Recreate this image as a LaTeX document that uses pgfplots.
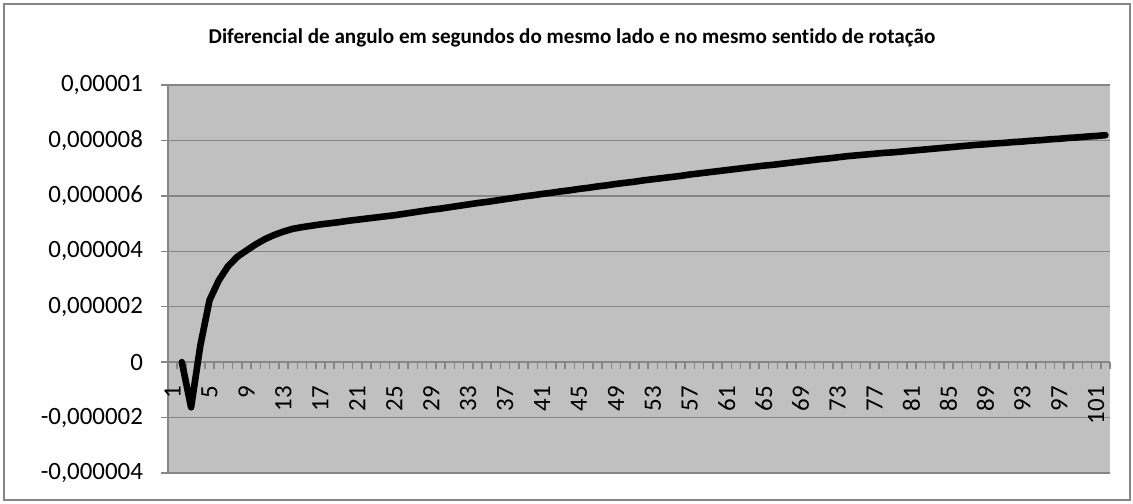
\documentclass[border=0pt]{standalone}
\usepackage{pgfplots}
\pgfplotsset{compat=1.18}
\usepackage{fontspec}
\setmainfont{Carlito}[Ligatures=NoCommon]
\definecolor{plotbg}{HTML}{C0C0C0}
\definecolor{gridc}{HTML}{868686}
\begin{document}
\begin{tikzpicture}[x=1bp,y=1bp]
\path[use as bounding box] (-84,-15) rectangle (482.5,236.5);
\draw[gridc, line width=0.75bp] (-82,-13.5) rectangle (481,234.5);
\node[font=\fontsize{10.6}{12}\selectfont\bfseries] at (202,217.5) {Diferencial de angulo em segundos do mesmo lado e no mesmo sentido de rotação};
\begin{axis}[
  at={(0,0)}, anchor=south west,
  scale only axis, width=471bp, height=194bp,
  xmin=0.5, xmax=102.5, ymin=-4e-6, ymax=1e-5,
  axis background/.style={fill=plotbg},
  axis x line=middle, axis y line=left,
  axis line style={gridc, line width=0.75bp, -},
  hide obscured x ticks=false, hide obscured y ticks=false,
  scaled y ticks=false,
  tick align=outside,
  major tick length=3.5bp, minor tick length=3.5bp,
  tick style={gridc, line width=0.75bp},
  xtick={1,5,...,101},
  minor xtick={0.5,1.5,...,102.5},
  major x tick style={draw=none},
  xticklabel style={yshift=-5bp, rotate=90, anchor=east, font=\fontsize{12.5}{14}\selectfont},
  /pgf/number format/assume math mode=true,
  ytick={-4e-6,-2e-6,0,2e-6,4e-6,6e-6,8e-6,1e-5},
  yticklabels={{-0,000004},{-0,000002},{0},{0,000002},{0,000004},{0,000006},{0,000008},{0,00001}},
  yticklabel style={xshift=-5.5bp, anchor=east, font=\fontsize{12.5}{14}\selectfont},
  ymajorgrids, major grid style={gridc, line width=0.75bp},
  clip=false,
]
\addplot[black, line width=3.3bp, line join=round, line cap=round] coordinates {
(2,0) (3,-1.63e-6) (4,0.6e-6) (5,2.24e-6) (6,2.95e-6) (7,3.46e-6) (8,3.80e-6) (9,4.03e-6)
(10,4.25e-6) (11,4.44e-6) (12,4.59e-6) (13,4.71e-6) (14,4.81e-6) (15,4.87e-6) (16,4.92e-6)
(17,4.97e-6) (18,5.01e-6) (19,5.05e-6) (20,5.10e-6) (21,5.14e-6) (22,5.18e-6) (23,5.22e-6)
(24,5.26e-6) (25,5.30e-6) (26,5.35e-6) (27,5.40e-6) (28,5.45e-6) (29,5.50e-6) (30,5.54e-6)
(31,5.59e-6) (32,5.64e-6) (33,5.69e-6) (34,5.74e-6) (35,5.78e-6) (36,5.83e-6) (37,5.88e-6)
(38,5.93e-6) (39,5.98e-6) (40,6.02e-6) (41,6.07e-6) (42,6.11e-6) (43,6.16e-6) (44,6.20e-6)
(45,6.25e-6) (46,6.29e-6) (47,6.34e-6) (48,6.38e-6) (49,6.43e-6) (50,6.47e-6) (51,6.51e-6)
(52,6.56e-6) (53,6.60e-6) (54,6.64e-6) (55,6.68e-6) (56,6.72e-6) (57,6.77e-6) (58,6.81e-6)
(59,6.85e-6) (60,6.89e-6) (61,6.93e-6) (62,6.97e-6) (63,7.01e-6) (64,7.05e-6) (65,7.09e-6)
(66,7.12e-6) (67,7.16e-6) (68,7.20e-6) (69,7.24e-6) (70,7.28e-6) (71,7.32e-6) (72,7.35e-6)
(73,7.39e-6) (74,7.43e-6) (75,7.46e-6) (76,7.49e-6) (77,7.52e-6) (78,7.55e-6) (79,7.57e-6)
(80,7.60e-6) (81,7.63e-6) (82,7.66e-6) (83,7.69e-6) (84,7.72e-6) (85,7.75e-6) (86,7.78e-6)
(87,7.81e-6) (88,7.84e-6) (89,7.86e-6) (90,7.89e-6) (91,7.91e-6) (92,7.94e-6) (93,7.96e-6)
(94,7.99e-6) (95,8.01e-6) (96,8.04e-6) (97,8.06e-6) (98,8.09e-6) (99,8.11e-6) (100,8.14e-6)
(101,8.16e-6) (102,8.19e-6)
};
\end{axis}
\end{tikzpicture}
\end{document}
